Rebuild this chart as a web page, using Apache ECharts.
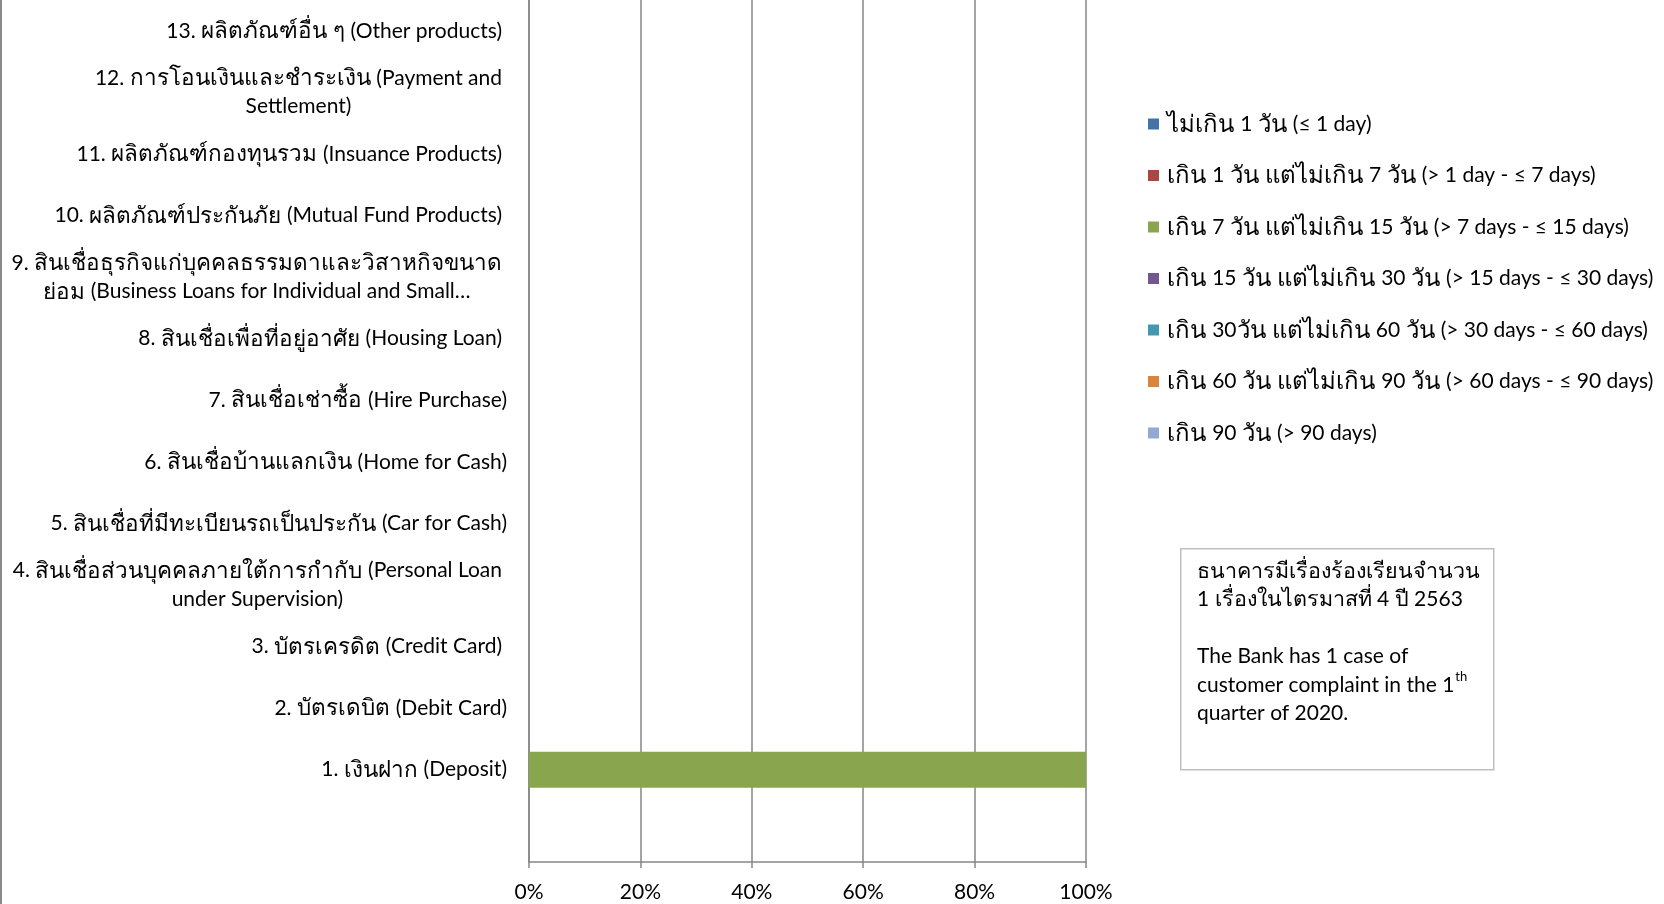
<!DOCTYPE html>
<html>
<head>
<meta charset="utf-8">
<script src="https://cdn.jsdelivr.net/npm/echarts@6/dist/echarts.min.js"></script>
<style>
html,body{margin:0;padding:0;background:#fff;}
#main{width:1664px;height:904px;}
</style>
</head>
<body>
<div id="main"></div>
<script>
// Categories, bottom to top (first is the empty slot below "1. Deposit")
var categories = [
  '',
  '1. เงินฝาก (Deposit)',
  '2. บัตรเดบิต (Debit Card)',
  '3. บัตรเครดิต (Credit Card)',
  '4. สินเชื่อส่วนบุคคลภายใต้การกำกับ (Personal Loan\nunder Supervision)',
  '5. สินเชื่อที่มีทะเบียนรถเป็นประกัน (Car for Cash)',
  '6. สินเชื่อบ้านแลกเงิน (Home for Cash)',
  '7. สินเชื่อเช่าซื้อ (Hire Purchase)',
  '8. สินเชื่อเพื่อที่อยู่อาศัย (Housing Loan)',
  '9. สินเชื่อธุรกิจแก่บุคคลธรรมดาและวิสาหกิจขนาด\nย่อม (Business Loans for Individual and Small…',
  '10. ผลิตภัณฑ์ประกันภัย (Mutual Fund Products)',
  '11. ผลิตภัณฑ์กองทุนรวม (Insuance Products)',
  '12. การโอนเงินและชำระเงิน (Payment and\nSettlement)',
  '13. ผลิตภัณฑ์อื่น ๆ (Other products)'
];

var seriesNames = [
  'ไม่เกิน 1 วัน (≤ 1 day)',
  'เกิน 1 วัน แต่ไม่เกิน 7 วัน (> 1 day - ≤ 7 days)',
  'เกิน 7 วัน แต่ไม่เกิน 15 วัน (> 7 days - ≤ 15 days)',
  'เกิน 15 วัน แต่ไม่เกิน 30 วัน (> 15 days - ≤ 30 days)',
  'เกิน 30วัน แต่ไม่เกิน 60 วัน (> 30 days - ≤ 60 days)',
  'เกิน 60 วัน แต่ไม่เกิน 90 วัน (> 60 days - ≤ 90 days)',
  'เกิน 90 วัน (> 90 days)'
];

// Share of complaints (%) per category, same order as categories
var le1Day     = [0,0,0,0,0,0,0,0,0,0,0,0,0,0];
var d1to7      = [0,0,0,0,0,0,0,0,0,0,0,0,0,0];
var d7to15     = [0,100,0,0,0,0,0,0,0,0,0,0,0,0];
var d15to30    = [0,0,0,0,0,0,0,0,0,0,0,0,0,0];
var d30to60    = [0,0,0,0,0,0,0,0,0,0,0,0,0,0];
var d60to90    = [0,0,0,0,0,0,0,0,0,0,0,0,0,0];
var over90     = [0,0,0,0,0,0,0,0,0,0,0,0,0,0];

var xTicks = [0, 20, 40, 60, 80, 100];

var noteThai = ['ธนาคารมีเรื่องร้องเรียนจำนวน', '1 เรื่องในไตรมาสที่ 4 ปี 2563'];
var noteEng = ['The Bank has 1 case of', 'customer complaint in the 1', 'quarter of 2020.'];

var colors = ['#4572A7','#AA4643','#89A54E','#71588F','#4198AF','#DB843D','#93A9CF'];
var allData = [le1Day, d1to7, d7to15, d15to30, d30to60, d60to90, over90];

var FONT = "Lato, 'Noto Sans', sans-serif";

// split a line into Thai / non-Thai runs, tagged with rich style names
function richLine(line, thaiStyle, latStyle) {
  var out = '', cur = '', curThai = null;
  for (var i = 0; i < line.length; i++) {
    var ch = line[i];
    var isThai = /[\u0E00-\u0E7F]/.test(ch);
    if (ch === ' ' && curThai !== null) isThai = curThai;
    if (curThai === null) curThai = isThai;
    if (isThai !== curThai) {
      out += '{' + (curThai ? thaiStyle : latStyle) + '|' + cur + '}';
      cur = '';
      curThai = isThai;
    }
    cur += ch;
  }
  if (cur) out += '{' + (curThai ? thaiStyle : latStyle) + '|' + cur + '}';
  return out;
}

var chart = echarts.init(document.getElementById('main'), null, {renderer:'canvas'});

var series = seriesNames.map(function(n, i){
  return {
    name: n,
    type: 'bar',
    stack: 'total',
    barWidth: 36,
    itemStyle: {color: colors[i]},
    data: allData[i]
  };
});

// labels that sit slightly closer to the axis in the original
var nearAxis = {1:true, 2:true, 5:true, 6:true, 7:true};

var option = {
  backgroundColor: '#ffffff',
  animation: false,
  color: colors,
  grid: {left: 529, right: 578, top: 0, bottom: 42, containLabel: false, outerBoundsMode: 'none'},
  xAxis: {
    type: 'value',
    min: xTicks[0],
    max: xTicks[xTicks.length-1],
    interval: xTicks[1]-xTicks[0],
    axisLine: {show: true, lineStyle: {color: '#868686', width: 1.5}},
    axisTick: {show: true, length: 6, lineStyle: {color: '#868686', width: 1.5}},
    splitLine: {show: true, lineStyle: {color: '#868686', width: 1.5}},
    axisLabel: {
      margin: 20,
      color: '#000',
      fontFamily: FONT,
      fontSize: 21,
      formatter: '{value}%'
    }
  },
  yAxis: {
    type: 'category',
    data: categories,
    axisLine: {show: true, lineStyle: {color: '#868686', width: 1.5}},
    axisTick: {show: false},
    splitLine: {show: false},
    axisLabel: {
      interval: 0,
      margin: 22,
      color: '#000',
      fontFamily: FONT,
      fontSize: 21,
      align: 'right',
      hideOverlap: false,
      formatter: function(v, idx){
        if (!v) return '';
        var pad = nearAxis[idx] ? '' : '{p|}';
        return v.split('\n').map(function(l){ return richLine(l, 't', 'l') + pad; }).join('\n');
      },
      rich: {
        l: {align: 'center', fontFamily: FONT, fontSize: 21, lineHeight: 28.5, color: '#000'},
        t: {align: 'center', fontFamily: FONT, fontSize: 22.5, lineHeight: 28.5, color: '#000'},
        p: {align: 'center', width: 5, lineHeight: 28.5}
      }
    }
  },
  legend: {
    orient: 'vertical',
    left: 1148,
    top: 112,
    padding: 0,
    itemWidth: 11,
    itemHeight: 11,
    itemGap: 27.5,
    icon: 'rect',
    formatter: function(n){ return richLine(n, 't', 'l'); },
    textStyle: {
      fontFamily: FONT, fontSize: 21, color: '#000', padding: [0,0,0,3],
      rich: {
        l: {fontFamily: FONT, fontSize: 21, lineHeight: 24, color: '#000'},
        t: {fontFamily: FONT, fontSize: 24, lineHeight: 24, color: '#000'}
      }
    },
    data: seriesNames
  },
  graphic: [
    {
      type: 'line',
      shape: {x1: 1, y1: 0, x2: 1, y2: 904},
      style: {stroke: '#8a8a8a', lineWidth: 2}
    },
    {
      type: 'rect',
      left: 1180, top: 548,
      shape: {width: 313, height: 221},
      style: {fill: '#fff', stroke: '#bfbfbf', lineWidth: 1.5}
    },
    {
      type: 'text',
      left: 1197, top: 560,
      style: {
        text: richLine(noteThai[0], 't', 'a') + '\n' + richLine(noteThai[1], 't', 'a') + '\n{a| }\n{a|' + noteEng[0] + '}\n{a|' + noteEng[1] + '}{s|th}\n{a|' + noteEng[2] + '}',
        rich: {
          a: {fontFamily: FONT, fontSize: 21, lineHeight: 28.5, fill: '#000'},
          t: {fontFamily: FONT, fontSize: 21.5, lineHeight: 28.5, fill: '#000'},
          s: {fontFamily: FONT, fontSize: 13, lineHeight: 28.5, fill: '#000', verticalAlign: 'top', padding: [0,0,10,1]}
        }
      }
    }
  ],
  series: series
};

chart.setOption(option);
</script>
</body>
</html>
